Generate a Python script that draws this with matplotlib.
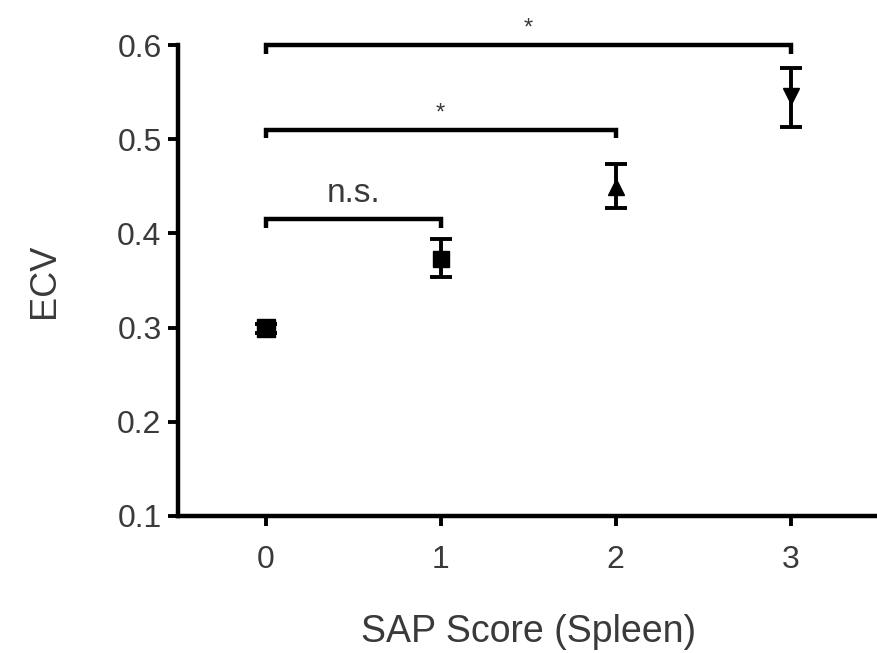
import matplotlib
matplotlib.use("Agg")
import matplotlib.pyplot as plt

plt.rcParams['font.family'] = ['Liberation Sans', 'DejaVu Sans']

scores = [0, 1, 2, 3]
ecv_mean = [0.299, 0.373, 0.449, 0.546]
ecv_err_low = [0.005, 0.019, 0.022, 0.033]
ecv_err_high = [0.005, 0.021, 0.025, 0.030]
markers = ['s', 's', '^', 'v']
marker_sizes = [13, 12, 12, 12]
tick_labels = ['0', '1', '2', '3']
y_ticks = [0.1, 0.2, 0.3, 0.4, 0.5, 0.6]

brackets = [(0, 1, 0.415, 'n.s.'), (0, 2, 0.51, '*'), (0, 3, 0.60, '*')]

fig = plt.figure(figsize=(8.78, 6.53), dpi=100)
ax = fig.add_axes([0.203, 0.21, 0.797, 0.721])
tc = '#3a3a3a'
for x, m, lo, hi, mk, ms in zip(scores, ecv_mean, ecv_err_low, ecv_err_high, markers, marker_sizes):
    ax.errorbar([x], [m], yerr=[[lo], [hi]], fmt=mk, color='black', ms=ms,
                capsize=8, capthick=2.8, elinewidth=2.8, clip_on=False, zorder=3)

for x0, x1, y, lab in brackets:
    ax.plot([x0, x0, x1, x1], [y - 0.009, y, y, y - 0.009], color='black', lw=3.2,
            clip_on=False, solid_capstyle='butt', solid_joinstyle='miter')
    if lab == 'n.s.':
        ax.text((x0 + x1) / 2, y + 0.018, lab, ha='center', va='baseline',
                fontsize=24, color=tc)
    else:
        ax.text((x0 + x1) / 2, y + 0.011, lab, ha='center', va='baseline',
                fontsize=17, color=tc)

ax.set_xlim(-0.5, 3.5)
ax.set_ylim(0.1, 0.6)
ax.set_xticks(scores)
ax.set_xticklabels(tick_labels)
ax.set_yticks(y_ticks)
ax.set_yticklabels([f'{v:.1f}' for v in y_ticks])
for s in ['top', 'right']:
    ax.spines[s].set_visible(False)
for s in ['left', 'bottom']:
    ax.spines[s].set_linewidth(3.2)
ax.tick_params(width=2.8, length=7, labelsize=23, colors='black', labelcolor=tc, pad=5)
ax.tick_params(axis='x', pad=14)
ax.set_xlabel('SAP Score (Spleen)', fontsize=27, color=tc, labelpad=28)
ax.set_ylabel('ECV', fontsize=26, color=tc, labelpad=40)
fig.savefig('out.png', dpi=100)
